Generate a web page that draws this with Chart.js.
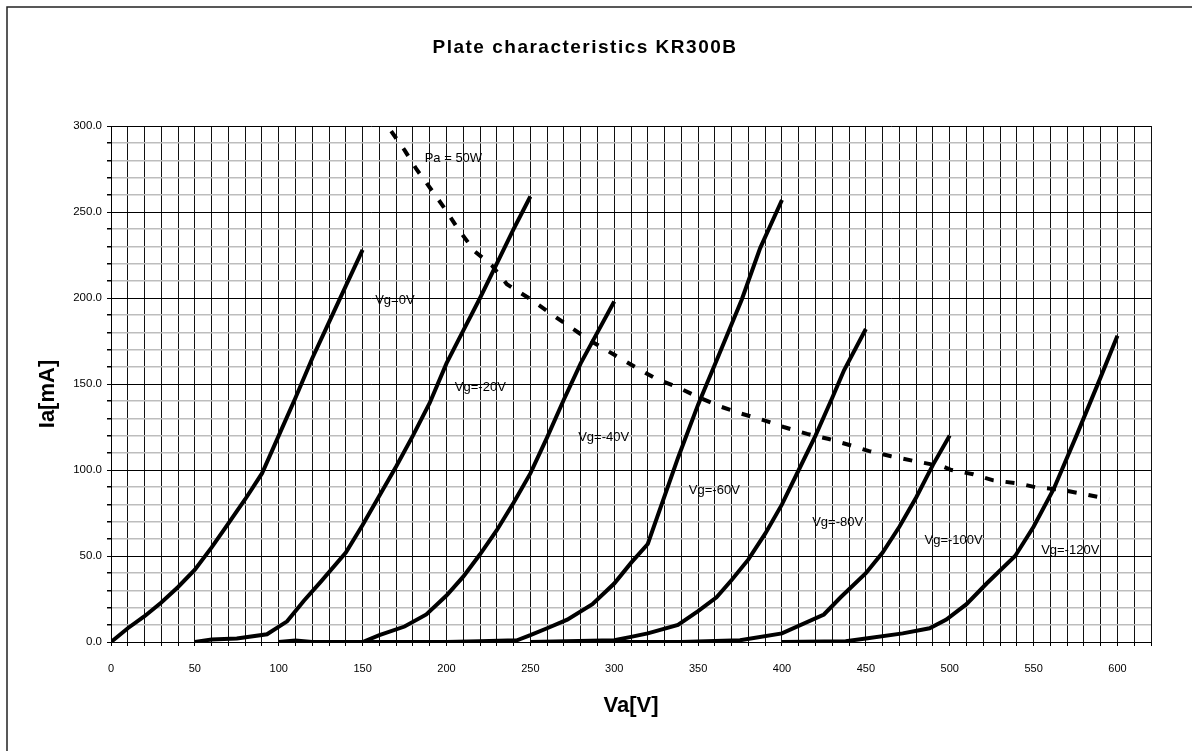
<!DOCTYPE html>
<html lang="en">
<head>
<meta charset="UTF-8">
<title>Plate characteristics KR300B</title>
<script src="https://cdn.jsdelivr.net/npm/chart.js"></script>
<style>
  html, body { margin: 0; padding: 0; background: #fff; }
</style>
</head>
<body>
<canvas id="plate" width="1192" height="751"></canvas>

<script>
// plate voltage Va [V] and plate current Ia [mA]
const va0 = [0, 10, 20, 30, 40, 50, 60, 70, 80, 90, 100, 110, 120, 130, 140, 150];
const ia0 = [0, 8, 15, 23, 32, 42, 55, 69, 83, 98, 120, 142, 165, 186, 207, 228];

const va20 = [50, 60, 75, 93, 105, 115, 125, 140, 150, 160, 170, 180, 190, 200, 210, 220, 230, 240, 250];
const ia20 = [0, 1.5, 2, 4.5, 12, 24, 35, 52, 68, 85, 102, 120, 139, 162, 181, 200, 220, 240, 259];

const va40 = [100, 110, 120, 150, 160, 175, 188, 200, 210, 220, 230, 240, 250, 260, 270, 280, 290, 300];
const ia40 = [0, 0.8, 0, 0, 4, 9, 16, 27, 38, 51, 65, 81, 98, 119, 141, 162, 180, 198];

const va60 = [150, 200, 220, 242, 250, 260, 272, 287, 300, 310, 320, 338, 350, 362, 376, 387, 400];
const ia60 = [0, 0, 0.5, 1, 4, 8, 13, 22, 34, 46, 57, 107, 138, 166, 199, 229, 257];

const va80 = [250, 300, 310, 320, 338, 350, 361, 370, 380, 390, 400, 410, 420, 430, 437, 450];
const ia80 = [0, 1, 3, 5, 10, 18, 26, 36, 48, 63, 80, 100, 120, 142, 158, 182];

const va100 = [300, 340, 375, 400, 425, 435, 450, 460, 470, 480, 490, 500];
const ia100 = [0, 0, 1, 5, 16, 26, 40, 52, 67, 84, 103, 120];

const va120 = [400, 438, 450, 472, 488, 498, 510, 522, 539, 550, 562, 576, 590, 600];
const ia120 = [0, 0.5, 2, 5, 8, 13, 22, 34, 50, 67, 89, 121, 154, 178];

// max plate dissipation line
const vaPa = [167, 175, 182, 188, 199, 207, 217, 227, 236, 249, 262, 274, 286, 300, 314, 325, 338, 351, 363, 375,
              389, 401, 415, 428, 442, 452, 465, 480, 496, 501, 514, 526, 542, 551, 566, 580, 595];
const iaPa = [297, 286, 275, 267, 252, 240, 227, 219, 208, 200, 191, 183, 175, 167, 159, 153, 148, 142, 137, 133,
              129, 125, 121, 118, 114, 111, 108, 105, 102, 100, 97.5, 94, 92, 90, 88.6, 86, 83];

// curve labels and where they sit (in Va / Ia units)
const labelText = ['Vg=0V', 'Vg=-20V', 'Vg=-40V', 'Vg=-60V', 'Vg=-80V', 'Vg=-100V', 'Vg=-120V', 'Pa = 50W'];
const labelVa = [157.5, 205, 278.5, 344.5, 418, 485, 554.5, 187];
const labelIa = [198.7, 148.3, 119.2, 88.2, 69.8, 59.1, 53.3, 281];

const FONT = '"Liberation Sans", Arial, sans-serif';

function points(xs, ys) {
    return xs.map((v, i) => ({ x: v, y: ys[i] }));
}

function curve(xs, ys) {
    return {
        data: points(xs, ys),
        showLine: true,
        borderColor: '#000',
        borderWidth: 4,
        pointRadius: 0,
        tension: 0
    };
}

const paLine = curve(vaPa, iaPa);
paLine.borderDash = [9, 12];

// title, axis titles, curve labels and the outer frame
const decorations = {
    id: 'decorations',
    afterDraw(chart) {
        const { ctx, scales: { x, y } } = chart;
        ctx.save();
        ctx.strokeStyle = '#222';
        ctx.lineWidth = 1.5;
        ctx.strokeRect(7, 7, 1200, 760);

        ctx.fillStyle = '#000';
        ctx.textBaseline = 'middle';
        ctx.textAlign = 'center';
        ctx.font = 'bold 19px ' + FONT;
        ctx.letterSpacing = '1.5px';
        ctx.fillText('Plate characteristics KR300B', 585, 48);
        ctx.letterSpacing = '0px';

        ctx.font = 'bold 22px ' + FONT;
        ctx.fillText('Va[V]', 631, 706);
        ctx.save();
        ctx.translate(47.5, 394);
        ctx.rotate(-Math.PI / 2);
        ctx.fillText('Ia[mA]', 0, 0);
        ctx.restore();

        ctx.textAlign = 'left';
        ctx.font = '13px ' + FONT;
        labelText.forEach((t, i) => {
            ctx.fillText(t, x.getPixelForValue(labelVa[i]), y.getPixelForValue(labelIa[i]));
        });
        ctx.restore();
    }
};

new Chart(document.getElementById('plate'), {
    type: 'scatter',
    data: {
        datasets: [
            curve(va0, ia0), curve(va20, ia20), curve(va40, ia40), curve(va60, ia60),
            curve(va80, ia80), curve(va100, ia100), curve(va120, ia120), paLine
        ]
    },
    options: {
        responsive: false,
        animation: false,
        devicePixelRatio: 1,
        layout: { padding: { top: 126, right: 41, bottom: 0, left: 0 } },
        plugins: { legend: { display: false }, tooltip: { enabled: false } },
        scales: {
            x: {
                type: 'linear',
                min: 0,
                max: 620,
                afterFit: (s) => { s.height = 109; },
                border: { color: '#000', width: 1 },
                grid: { color: '#111', tickColor: '#000', tickLength: 4 },
                ticks: {
                    stepSize: 10,
                    autoSkip: false,
                    maxRotation: 0,
                    padding: 16,
                    color: '#000',
                    font: { family: FONT, size: 11 },
                    callback: (v) => (v % 50 === 0 && v <= 600 ? String(v) : '')
                }
            },
            y: {
                type: 'linear',
                min: 0,
                max: 300,
                afterFit: (s) => { s.width = 111; },
                border: { color: '#000', width: 1 },
                grid: {
                    color: (c) => (c.tick.value % 50 === 0 ? '#000' : '#bdbdbd'),
                    lineWidth: (c) => (c.tick.value % 50 === 0 ? 1 : 1.5),
                    tickColor: '#000',
                    tickLength: 4
                },
                ticks: {
                    stepSize: 10,
                    autoSkip: false,
                    padding: 5,
                    color: '#000',
                    font: { family: FONT, size: 11.5 },
                    callback: (v) => (v % 50 === 0 ? v.toFixed(1) : '')
                }
            }
        }
    },
    plugins: [decorations]
});
</script>
</body>
</html>
